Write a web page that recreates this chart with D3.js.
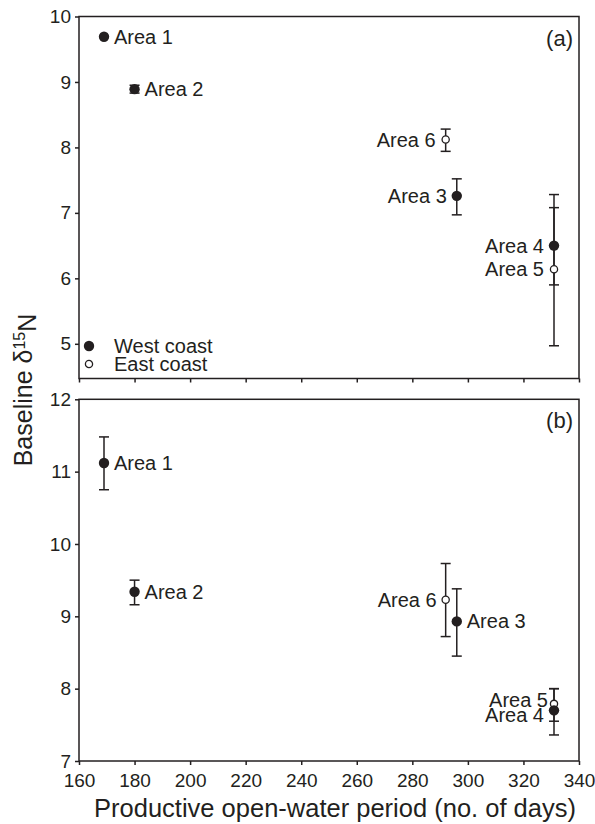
<!DOCTYPE html>
<html lang="en">
<head>
    <meta charset="UTF-8">
    <title>Baseline d15N</title>
    <script src="https://d3js.org/d3.v7.min.js"></script>
</head>
<body>
<svg id="chart"></svg>
</body>

<style>
    body {
        margin: 0;
        background: #fff;
    }

    text {
        font-family: "Liberation Sans", Arial, sans-serif;
        fill: #231f20;
    }

    .tick line, .frame, .err {
        stroke: #231f20;
        stroke-width: 1.5px;
    }
</style>

<script>
    // data
    const areas = ['Area 1', 'Area 2', 'Area 3', 'Area 4', 'Area 5', 'Area 6'];
    const coast = ['West', 'West', 'West', 'West', 'East', 'East'];
    const openWaterDays = [169, 180, 296, 331, 331, 292];

    // panel (a)
    const meanA = [9.69, 8.89, 7.26, 6.50, 6.14, 8.12];
    const lowA = [9.685, 8.83, 6.97, 5.90, 4.97, 7.94];
    const highA = [9.695, 8.95, 7.52, 7.28, 7.08, 8.28];

    // panel (b)
    const meanB = [11.12, 9.34, 8.93, 7.70, 7.79, 9.23];
    const lowB = [10.75, 9.16, 8.45, 7.36, 7.55, 8.72];
    const highB = [11.48, 9.50, 9.38, 8.00, 8.00, 9.73];

    const xTicks = [160, 180, 200, 220, 240, 260, 280, 300, 320, 340];
    const yTicksA = [5, 6, 7, 8, 9, 10];
    const yTicksB = [7, 8, 9, 10, 11, 12];

    const width = 595;
    const height = 824;
    const ink = '#231f20';

    const svg = d3.select('#chart')
        .attr('width', width)
        .attr('height', height);

    const x = d3.scaleLinear().domain([160, 340]).range([79, 579]);
    const yA = d3.scaleLinear().domain([4.47, 10]).range([378.5, 16.5]);
    const yB = d3.scaleLinear().domain([7, 12]).range([761, 399.3]);

    // which side each label sits on, with small nudges
    const labelsA = {
        'Area 1': {side: 'right'},
        'Area 2': {side: 'right'},
        'Area 3': {side: 'left'},
        'Area 4': {side: 'left'},
        'Area 5': {side: 'left'},
        'Area 6': {side: 'left'}
    };
    const labelsB = {
        'Area 1': {side: 'right'},
        'Area 2': {side: 'right'},
        'Area 3': {side: 'right'},
        'Area 4': {side: 'left', dy: 5},
        'Area 5': {side: 'left', dy: -4, gap: 6},
        'Area 6': {side: 'left', gap: 9}
    };

    function drawPanel(y, mean, low, high, labels, tag, tickLabels, yTicks) {
        const g = svg.append('g');
        const [y0, y1] = y.range();

        g.append('rect')
            .attr('class', 'frame')
            .attr('x', x.range()[0])
            .attr('y', y1)
            .attr('width', x.range()[1] - x.range()[0])
            .attr('height', y0 - y1)
            .attr('fill', 'none');

        const yAxis = g.append('g')
            .attr('transform', `translate(${x.range()[0]},0)`)
            .call(d3.axisLeft(y).tickValues(yTicks).tickSize(4).tickPadding(4)
                .tickFormat(d3.format('d')));
        yAxis.select('.domain').remove();
        yAxis.selectAll('text').style('font-size', '19px');

        const xAxis = g.append('g')
            .attr('transform', `translate(0,${y0})`)
            .call(d3.axisBottom(x).tickValues(xTicks).tickSize(4).tickPadding(9)
                .tickFormat(tickLabels ? d3.format('d') : () => ''));
        xAxis.select('.domain').remove();
        xAxis.selectAll('text').style('font-size', '19px');

        const rows = areas.map((a, i) => ({
            area: a,
            coast: coast[i],
            days: openWaterDays[i],
            mean: mean[i],
            low: low[i],
            high: high[i]
        }));

        const bars = g.append('g');
        bars.selectAll('line.stem')
            .data(rows)
            .join('line')
            .attr('class', 'err stem')
            .attr('x1', d => x(d.days))
            .attr('x2', d => x(d.days))
            .attr('y1', d => y(d.low))
            .attr('y2', d => y(d.high));
        ['low', 'high'].forEach(k => {
            bars.selectAll('line.cap-' + k)
                .data(rows)
                .join('line')
                .attr('class', 'err cap-' + k)
                .attr('x1', d => x(d.days) - 5)
                .attr('x2', d => x(d.days) + 5)
                .attr('y1', d => y(d[k]))
                .attr('y2', d => y(d[k]));
        });

        // east coast first so west coast dots lie on top
        const order = rows.slice().sort((a, b) => (a.coast === 'East' ? -1 : 1) - (b.coast === 'East' ? -1 : 1));
        g.append('g').selectAll('circle')
            .data(order)
            .join('circle')
            .attr('cx', d => x(d.days))
            .attr('cy', d => y(d.mean))
            .attr('r', d => d.coast === 'West' ? 5.2 : 3.6)
            .attr('fill', d => d.coast === 'West' ? ink : '#fff')
            .attr('stroke', ink)
            .attr('stroke-width', d => d.coast === 'West' ? 0 : 1.3);

        g.append('g').selectAll('text')
            .data(rows)
            .join('text')
            .attr('x', d => {
                const l = labels[d.area];
                const gap = l.gap || 10;
                return l.side === 'right' ? x(d.days) + gap : x(d.days) - gap;
            })
            .attr('y', d => y(d.mean) + (labels[d.area].dy || 0))
            .attr('dy', '0.35em')
            .attr('text-anchor', d => labels[d.area].side === 'right' ? 'start' : 'end')
            .style('font-size', '20px')
            .text(d => d.area);

        g.append('text')
            .attr('x', 573)
            .attr('y', y1 + 29)
            .attr('text-anchor', 'end')
            .style('font-size', '22px')
            .text(tag);

        return g;
    }

    const panelA = drawPanel(yA, meanA, lowA, highA, labelsA, '(a)', false, yTicksA);
    drawPanel(yB, meanB, lowB, highB, labelsB, '(b)', true, yTicksB);

    // legend in panel (a)
    const legend = panelA.append('g').attr('transform', 'translate(89,346)');
    [['West coast', 'West'], ['East coast', 'East']].forEach(([name, c], i) => {
        legend.append('circle')
            .attr('cx', 0)
            .attr('cy', i * 18)
            .attr('r', c === 'West' ? 5.2 : 3.6)
            .attr('fill', c === 'West' ? ink : '#fff')
            .attr('stroke', ink)
            .attr('stroke-width', c === 'West' ? 0 : 1.3);
        legend.append('text')
            .attr('x', 25)
            .attr('y', i * 18)
            .attr('dy', '0.35em')
            .style('font-size', '20px')
            .text(name);
    });

    // axis titles
    svg.append('text')
        .attr('x', 335)
        .attr('y', 817)
        .attr('text-anchor', 'middle')
        .style('font-size', '25.5px')
        .text('Productive open-water period (no. of days)');

    const yTitle = svg.append('text')
        .attr('transform', 'translate(32,390) rotate(-90)')
        .attr('text-anchor', 'middle')
        .style('font-size', '25px');
    yTitle.append('tspan').text('Baseline δ');
    yTitle.append('tspan').attr('dy', '-0.45em').style('font-size', '16px').text('15');
    yTitle.append('tspan').attr('dy', '0.45em').text('N');
</script>
</html>
